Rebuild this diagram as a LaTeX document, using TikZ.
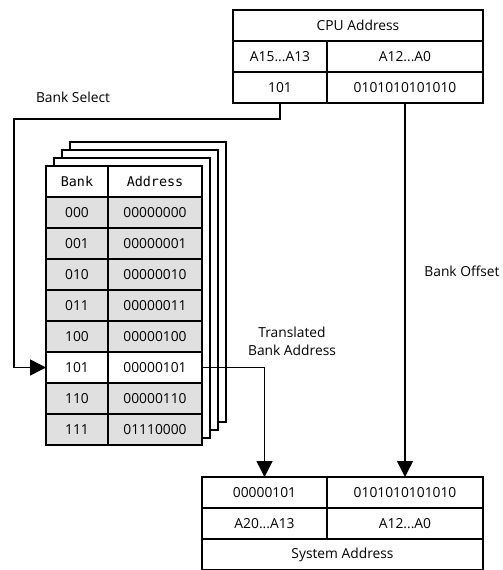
\documentclass[tikz,border=0pt]{standalone}
\usepackage{fontspec}
\setmainfont{Open Sans}
\newfontfamily\monofont{DejaVu Sans Mono}
\usetikzlibrary{arrows.meta, positioning}
\definecolor{rowgray}{RGB}{224,224,224}

\begin{document}
\begin{tikzpicture}[
    x=1pt, y=-1pt,
    node distance=0pt,
    cell/.style={rectangle, draw, line width=1.5pt, fill=white, inner sep=0pt, outer sep=0pt, minimum height=31pt, font=\fontsize{13.8}{16}\selectfont},
    grayrow/.style={cell, fill=rowgray},
    hdr/.style={cell, font=\monofont\fontsize{13.4}{16}\selectfont},
    sheet/.style={draw, line width=1.5pt, fill=white},
    wire/.style={line width=1.5pt},
    arrow/.style={wire, -{Triangle[length=16pt, width=16pt]}},
    lbl/.style={font=\fontsize{13.8}{18}\selectfont, align=center}
]
\useasboundingbox (0,0) rectangle (503,570);

% CPU address
\node[cell, minimum width=250pt, anchor=north west] (cpu) at (233,10) {CPU Address};
\node[cell, minimum width=94pt, anchor=north west] (cpuhi) at (233,41) {A15...A13};
\node[cell, minimum width=156pt, right=of cpuhi] (cpulo) {A12...A0};
\node[cell, minimum width=94pt, below=of cpuhi] (cpubank) {101};
\node[cell, minimum width=156pt, right=of cpubank] (cpuoff) {0101010101010};

% Stacked bank tables
\draw[sheet] (70,142) rectangle ++(156,280);
\draw[sheet] (62,150) rectangle ++(156,280);
\draw[sheet] (54,158) rectangle ++(156,280);

\node[hdr, minimum width=62pt, anchor=north west] (bankhead) at (46,166) {Bank};
\node[hdr, minimum width=94pt, right=of bankhead] (addrhead) {Address};
\node[grayrow, minimum width=62pt, below=of bankhead] (b000) {000};
\node[grayrow, minimum width=94pt, right=of b000] (a000) {00000000};
\node[grayrow, minimum width=62pt, below=of b000] (b001) {001};
\node[grayrow, minimum width=94pt, right=of b001] (a001) {00000001};
\node[grayrow, minimum width=62pt, below=of b001] (b010) {010};
\node[grayrow, minimum width=94pt, right=of b010] (a010) {00000010};
\node[grayrow, minimum width=62pt, below=of b010] (b011) {011};
\node[grayrow, minimum width=94pt, right=of b011] (a011) {00000011};
\node[grayrow, minimum width=62pt, below=of b011] (b100) {100};
\node[grayrow, minimum width=94pt, right=of b100] (a100) {00000100};
\node[cell, minimum width=62pt, below=of b100] (b101) {101};
\node[cell, minimum width=94pt, right=of b101] (a101) {00000101};
\node[grayrow, minimum width=62pt, below=of b101] (b110) {110};
\node[grayrow, minimum width=94pt, right=of b110] (a110) {00000110};
\node[grayrow, minimum width=62pt, below=of b110] (b111) {111};
\node[grayrow, minimum width=94pt, right=of b111] (a111) {01110000};

% System address
\node[cell, minimum width=125pt, anchor=north west] (sysbank) at (202,477) {00000101};
\node[cell, minimum width=156pt, right=of sysbank] (sysoff) {0101010101010};
\node[cell, minimum width=125pt, below=of sysbank] (syshi) {A20...A13};
\node[cell, minimum width=156pt, right=of syshi] (syslo) {A12...A0};
\node[cell, minimum width=281pt, anchor=north west] (sys) at (202,539) {System Address};

% Connections
\coordinate (selcorner) at (14,119);
\draw[arrow] (cpubank.south) |- (selcorner) |- (b101.west);
\draw[arrow] (a101.east) -| (sysbank.north);
\draw[arrow] (cpuoff.south) -- (sysoff.north);

% Labels
\node[lbl] (sellbl) at (73,97) {Bank Select};
\node[lbl] (translbl) at (292,341) {Translated\\Bank Address};
\node[lbl] (offlbl) at (462,271) {Bank Offset};

\end{tikzpicture}
\end{document}
